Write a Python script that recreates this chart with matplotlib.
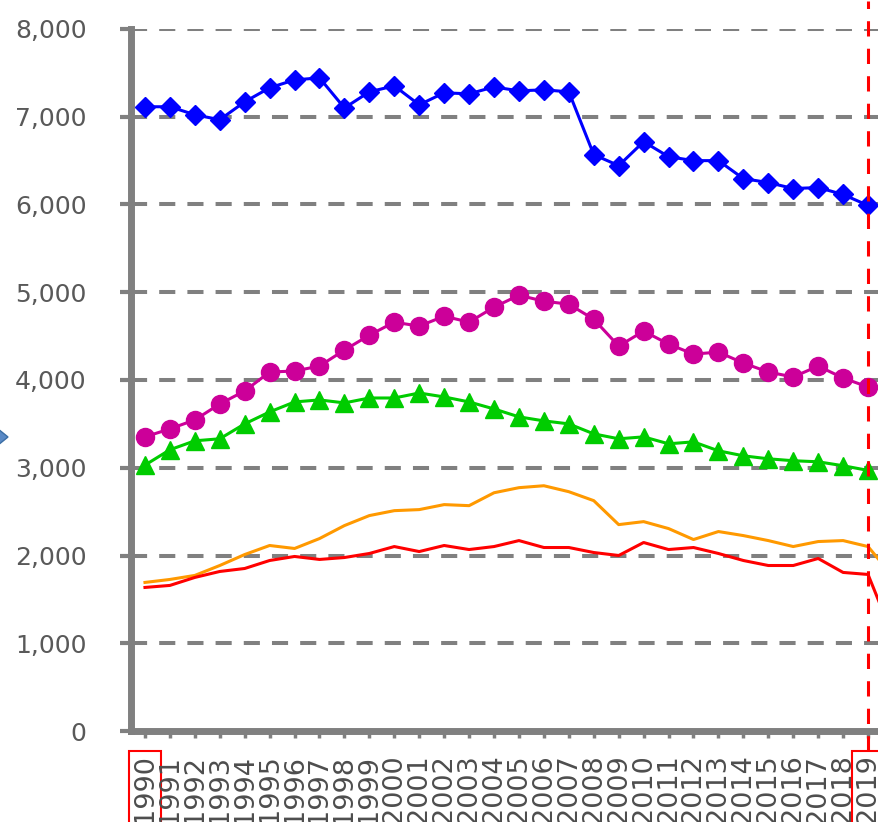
import matplotlib
matplotlib.use('Agg')
import matplotlib.pyplot as plt
from matplotlib.patches import Polygon

years = list(range(1990, 2020))
years_ext = list(range(1990, 2021))
year_labels = [str(y) for y in years]

blue = [7114, 7114, 7023, 6966, 7170, 7330, 7420, 7443, 7100, 7284,
        7352, 7136, 7273, 7261, 7340, 7295, 7307, 7284, 6568, 6443,
        6716, 6545, 6500, 6500, 6295, 6250, 6182, 6193, 6114, 5989]
magenta = [3352, 3443, 3545, 3727, 3875, 4091, 4102, 4159, 4341, 4511,
           4659, 4614, 4727, 4659, 4830, 4966, 4898, 4864, 4693, 4386,
           4557, 4409, 4295, 4318, 4193, 4091, 4034, 4159, 4023, 3920]
green = [3030, 3205, 3307, 3330, 3500, 3636, 3750, 3773, 3739, 3795,
         3795, 3852, 3807, 3750, 3670, 3580, 3534, 3500, 3386, 3330,
         3352, 3273, 3295, 3193, 3136, 3102, 3080, 3068, 3023, 2970]
orange = [1693, 1727, 1773, 1886, 2011, 2114, 2080, 2193, 2341, 2455,
          2511, 2523, 2580, 2568, 2715, 2773, 2795, 2727, 2625, 2352,
          2386, 2307, 2182, 2273, 2227, 2170, 2102, 2159, 2170, 2102, 1760]
red = [1636, 1659, 1750, 1818, 1852, 1943, 1989, 1955, 1977, 2023,
       2102, 2045, 2114, 2068, 2102, 2170, 2091, 2091, 2034, 2000,
       2148, 2068, 2091, 2023, 1943, 1886, 1886, 1966, 1807, 1784, 1080]
y_ticks = [0, 1000, 2000, 3000, 4000, 5000, 6000, 7000, 8000]

W, H = 879, 822
fig = plt.figure(figsize=(W / 100, H / 100), dpi=100)
ax = fig.add_axes([131 / W, (H - 731) / H, 1 - 131 / W, (731 - 29) / H])

gray = '#808080'
ax.set_xlim(1989.44, 2019.44)
ax.set_ylim(0, 8000)

ax.set_yticks(y_ticks)
ax.set_yticklabels([f'{v:,}' for v in y_ticks])
ax.set_xticks(years)
ax.set_xticklabels(year_labels, rotation=90, va='top', ha='center')

for v in y_ticks[1:]:
    ax.axhline(v, color=gray, lw=2.9, linestyle=(0, (4, 3)), zorder=1)

for s in ['top', 'right']:
    ax.spines[s].set_visible(False)
for s in ['left', 'bottom']:
    ax.spines[s].set_color(gray)
    ax.spines[s].set_linewidth(5)
    ax.spines[s].set_zorder(2)

ax.tick_params(axis='y', length=8, width=3, color=gray, pad=24,
               labelsize=18, labelcolor='#595959')
ax.tick_params(axis='x', length=5, width=2.5, color=gray, pad=12,
               labelsize=19.5, labelcolor='#4d4d4d')

lw = 2.2
ax.plot(years_ext, orange, color='#ff9900', lw=lw, zorder=3)
ax.plot(years_ext, red, color='#ff0000', lw=lw, zorder=3)
ax.plot(years, green, color='#00cc00', lw=lw, marker='^', markersize=12.5, zorder=4)
ax.plot(years, magenta, color='#cc0099', lw=lw, marker='o', markersize=13, zorder=4)
ax.plot(years, blue, color='#0000ff', lw=lw, marker='D', markersize=10.5, zorder=5)

ax.axvline(2019, ymin=-0.028, ymax=1.04, color='#ff0000', lw=2.2,
           linestyle=(0, (5, 4)), clip_on=False, zorder=10)

labels = ax.get_xticklabels()
for lab in (labels[0], labels[-1]):
    lab.set_bbox(dict(boxstyle='square,pad=0.12', facecolor='none',
                      edgecolor='#ff0000', linewidth=1.5))

yc = (H - 437) / H
arrow = Polygon([[-0.012, yc + 15 / H], [8 / W, yc], [-0.012, yc - 15 / H]],
                closed=True, transform=fig.transFigure, facecolor='#5a8ac6',
                edgecolor='#3b6ea5', lw=1)
fig.patches.append(arrow)

fig.savefig('out.png', dpi=100)
